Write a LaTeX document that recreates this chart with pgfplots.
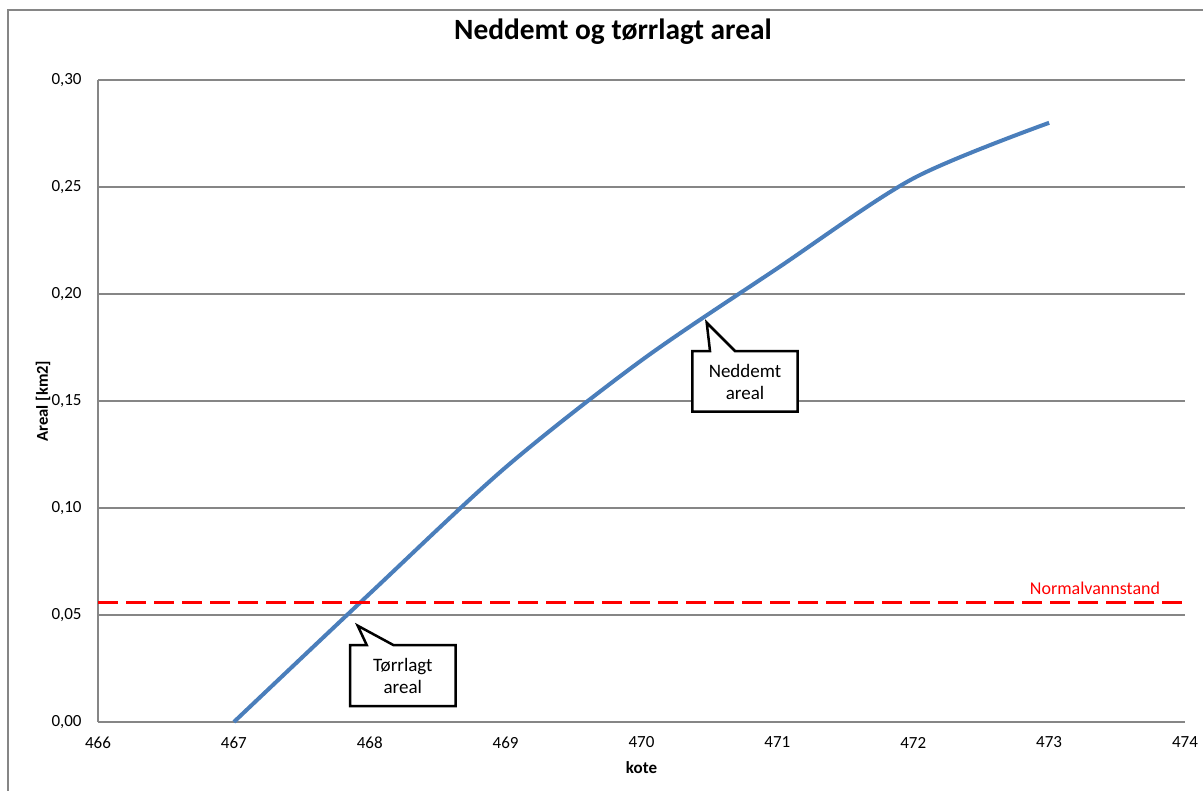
\documentclass[border=0pt]{standalone}
\usepackage{fontspec}
\setmainfont{Carlito}
\usepackage{pgfplots}
\pgfplotsset{compat=1.18}

\definecolor{seriesblue}{RGB}{74,126,187}
\definecolor{gridgray}{RGB}{134,134,134}
\definecolor{levelred}{RGB}{255,0,0}

\begin{document}
\begin{tikzpicture}[x=0.5pt,y=-0.5pt]
\path[use as bounding box] (0,0) rectangle (1203,791);
% chart frame
\draw[gridgray, line width=0.75pt] (8,791) -- (8,10) -- (1203,10);

\begin{axis}[
  at={(49pt,-361pt)}, anchor=south west,
  scale only axis, width=543.5pt, height=321pt,
  xmin=466, xmax=474, ymin=0, ymax=0.30,
  xtick={466,467,468,469,470,471,472,473,474},
  ytick={0,0.05,0.10,0.15,0.20,0.25,0.30},
  axis x line*=bottom, axis y line*=left,
  axis line style={gridgray, line width=0.75pt, -},
  ymajorgrids, grid style={gridgray, line width=0.75pt},
  major tick length=0pt,
  /pgf/number format/assume math mode=true,
  yticklabel style={/pgf/number format/.cd, fixed, fixed zerofill, precision=2, use comma, /tikz/.cd,
    anchor=east, inner sep=0pt, xshift=-8pt, font=\fontsize{8.5}{10}\selectfont},
  xticklabel style={/pgf/number format/.cd, fixed, precision=0, 1000 sep={}, /tikz/.cd,
    anchor=center, inner sep=0pt, yshift=-10.25pt, font=\fontsize{8.5}{10}\selectfont},
  xlabel={kote}, ylabel={Areal [km2]},
  xlabel style={at={(axis description cs:0.5,-0.0717)}, anchor=center, inner sep=0pt,
    font=\bfseries\fontsize{8.5}{10}\selectfont},
  ylabel style={at={(axis description cs:-0.0506,0.5)}, anchor=center, inner sep=0pt,
    font=\bfseries\fontsize{8.3}{10}\selectfont},
  title={Neddemt og tørrlagt areal},
  title style={at={(axis description cs:0.4738,1.056)}, anchor=center, inner sep=0pt,
    font=\bfseries\fontsize{14.7}{16}\selectfont},
  clip=false,
]
% area curve
\addplot[seriesblue, line width=2pt, smooth] coordinates {
  (467,0) (468,0.060) (469,0.119) (470,0.169) (471,0.212) (472,0.254) (473,0.280)};
% normal water level
\addplot[levelred, line width=1.5pt, dash pattern=on 10pt off 4pt] coordinates {
  (466,0.0558) (474,0.0558)};
\end{axis}

% callouts
\draw[black, line width=1.25pt, fill=white, line join=miter]
  (692.3,351) -- (710,351) -- (706.7,322.7) -- (735,351) -- (797.7,351)
  -- (797.7,411.7) -- (692.3,411.7) -- cycle;
\node[align=center, font=\fontsize{9.5}{11}\selectfont] at (745,381.5) {Neddemt\\areal};

\draw[black, line width=1.25pt, fill=white, line join=miter]
  (350,645) -- (366.7,645) -- (357.7,625.7) -- (393.3,645) -- (455.7,645)
  -- (455.7,706) -- (350,706) -- cycle;
\node[align=center, font=\fontsize{9.5}{11}\selectfont] at (402.8,676) {Tørrlagt\\areal};

\node[levelred, font=\fontsize{9}{10}\selectfont] at (1095,588) {Normalvannstand};
\end{tikzpicture}
\end{document}
